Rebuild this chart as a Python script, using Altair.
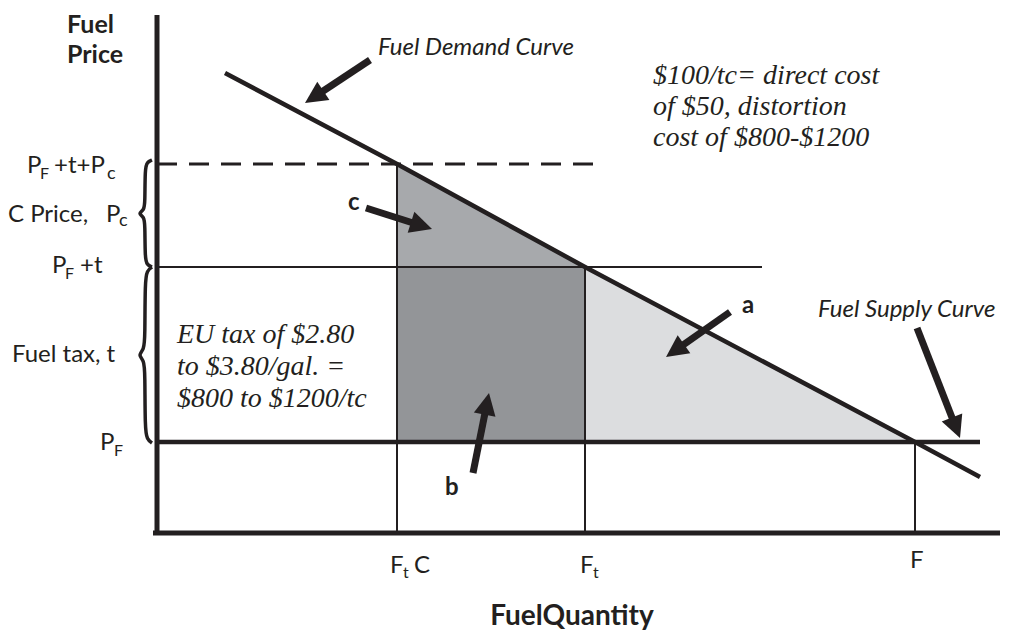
import math
import altair as alt
import pandas as pd

# ---------------- data (diagram values, origin at the axes' corner) ----------
# quantities
Q_FTC, Q_FT, Q_F = 240, 428, 758
# prices
P_F, P_FT, P_FTC = 91, 266, 369

# demand curve points (quantity, price)
demand_q = [68, 240, 428, 758, 823]
demand_p = [460, 369, 266, 91, 56]

# arrows: tail (q, p) -> tip (q, p)
arrow_q0 = [213, 209, 573, 316, 760]
arrow_p0 = [473, 325, 221, 60, 205]
arrow_q1 = [148, 275, 509, 332, 803]
arrow_p1 = [430, 304, 176, 140, 95]

INK = "#231f20"

xs = alt.Scale(domain=[-149, 851], nice=False, zero=False)
ys = alt.Scale(domain=[-99, 525], nice=False, zero=False)


def X(f):
    return alt.X(f, type="quantitative", scale=xs, axis=None)


def Y(f):
    return alt.Y(f, type="quantitative", scale=ys, axis=None)


# ---------------- filled regions ----------------
tri_c = pd.DataFrame({"q": [Q_FTC, Q_FT], "p": [P_FTC, P_FT], "p2": [P_FT, P_FT]})
tri_a = pd.DataFrame({"q": [Q_FT, Q_F], "p": [P_FT, P_F], "p2": [P_F, P_F]})
rect_b = pd.DataFrame({"q": [Q_FTC], "q2": [Q_FT], "p": [P_F], "p2": [P_FT]})

area_c = alt.Chart(tri_c).mark_area(color="#a7a9ac", opacity=1).encode(
    x=X("q"), y=Y("p"), y2="p2")
area_a = alt.Chart(tri_a).mark_area(color="#dcdddf", opacity=1).encode(
    x=X("q"), y=Y("p"), y2="p2")
rect = alt.Chart(rect_b).mark_rect(color="#939598").encode(
    x=X("q"), x2="q2", y=Y("p"), y2="p2")

# ---------------- straight lines ----------------
lines = pd.DataFrame({
    "q":  [0, -4, 0, 0, Q_FTC, Q_FT, Q_F],
    "q2": [0, 843, 823, 605, Q_FTC, Q_FT, Q_F],
    "p":  [-2, 0, P_F, P_FT, 0, 0, 0],
    "p2": [518, 0, P_F, P_FT, P_FTC, P_FT, P_F],
    "w":  [5, 5, 4.5, 2, 2, 2, 2],
})
rules = alt.Chart(lines).mark_rule(color=INK).encode(
    x=X("q"), x2="q2", y=Y("p"), y2="p2",
    strokeWidth=alt.StrokeWidth("w:Q", scale=None, legend=None))

dashed = alt.Chart(pd.DataFrame({"q": [0], "q2": [440], "p": [P_FTC]})).mark_rule(
    color=INK, strokeWidth=3, strokeDash=[20, 12]).encode(x=X("q"), x2="q2", y=Y("p"))

demand = alt.Chart(pd.DataFrame({"q": demand_q, "p": demand_p})).mark_line(
    color=INK, strokeWidth=4.5).encode(x=X("q"), y=Y("p"), order="q:Q")

# ---------------- braces ----------------
brace_dx = [0, -5, -7, -7, -8, -14, -8, -7, -7, -5, 0]
brace_t = [0, 0.02, 0.08, 0.40, 0.47, 0.5, 0.53, 0.60, 0.92, 0.98, 1]
brace_rows = []
for bid, (top, bot) in enumerate([(P_FTC + 4, P_FT), (P_FT, P_F - 1)]):
    for i, (dx, t) in enumerate(zip(brace_dx, brace_t)):
        brace_rows.append({"b": bid, "i": i, "q": -5 + dx, "p": top - t * (top - bot)})
braces = alt.Chart(pd.DataFrame(brace_rows)).mark_line(
    color=INK, strokeWidth=3.5, interpolate="basis").encode(
    x=X("q"), y=Y("p"), detail="b:N", order="i:Q")

# ---------------- arrows ----------------
R = 11
rows = []
for q0, p0, q1, p1 in zip(arrow_q0, arrow_p0, arrow_q1, arrow_p1):
    dx, dy = q1 - q0, -(p1 - p0)  # screen direction (y down)
    L = math.hypot(dx, dy)
    ux, uy = dx / L, dy / L
    ang = math.degrees(math.atan2(ux, -uy)) % 360
    rows.append({
        "q0": q0, "p0": p0,
        "qs": q1 - 1.2 * R * ux, "ps": p1 + 1.2 * R * uy,
        "qh": q1 - R * ux, "ph": p1 + R * uy, "ang": ang,
    })
adf = pd.DataFrame(rows)
shafts = alt.Chart(adf).mark_rule(color=INK, strokeWidth=7).encode(
    x=X("q0"), x2="qs", y=Y("p0"), y2="ps")
heads = alt.Chart(adf).mark_point(
    shape="M0,-1L1,1L-1,1Z", filled=True, fill=INK, strokeWidth=0, opacity=1,
    size=(2 * R) ** 2).encode(
    x=X("qh"), y=Y("ph"), angle=alt.Angle("ang:Q", scale=None))


# ---------------- text ----------------
def T(px, py):
    return px - 157, 533 - py


def text_layer(items, font, size, weight="normal", style="normal", align="left"):
    df = pd.DataFrame([{"q": T(x, y)[0], "p": T(x, y)[1], "txt": s} for x, y, s in items])
    return alt.Chart(df).mark_text(
        font=font, fontSize=size, fontWeight=weight, fontStyle=style, align=align,
        baseline="alphabetic", color=INK).encode(x=X("q"), y=Y("p"), text="txt:N")


SANS = "Lato"
main_labels = [
    (27, 173, "P"), (54, 173, "+t+P"),
    (8, 222, "C Price,"), (106, 222, "P"),
    (52, 273, "P"), (80, 273, "+t"),
    (12, 362, "Fuel  tax, t"),
    (100, 450, "P"),
    (390, 573, "F"), (414, 573, "C"),
    (580, 573, "F"),
    (910, 568, "F"),
]
sub_labels_f = [
    (40, 179, "F"), (65, 279, "F"), (114, 456, "F"),
    (403, 578, "t"), (593, 578, "t"),
]
sub_labels_c = [(107, 179, "c"), (119, 226, "c")]
bold_titles = [(67, 33, "Fuel"), (67, 63, "Price")]
letters = [(348, 210, "c"), (742, 313, "a"), (445, 495, "b")]
italic_sans = [(378, 55, "Fuel Demand Curve"), (818, 317, "Fuel Supply Curve")]
serif_notes = [
    (653, 84, "$100/tc= direct cost"), (653, 115, "of $50, distortion"),
    (653, 146, "cost of $800-$1200"),
    (177, 343, "EU tax of $2.80"), (177, 375, "to $3.80/gal. ="),
    (177, 407, "$800 to $1200/tc"),
]

texts = [
    text_layer(main_labels, SANS, 24),
    text_layer(sub_labels_f, SANS, 16),
    text_layer(sub_labels_c, SANS, 18),
    text_layer(bold_titles, SANS, 25, weight="bold"),
    text_layer(letters, SANS, 24, weight="bold"),
    text_layer(italic_sans, SANS, 24, style="italic"),
    text_layer(serif_notes, "Liberation Serif", 28, style="italic"),
    text_layer([(572, 625, "FuelQuantity")], SANS, 28, weight="bold", align="center"),
]

chart = alt.layer(
    area_c, area_a, rect, rules, dashed, demand, braces, shafts, heads, *texts
).properties(
    width=1000, height=624, padding=0,
    autosize=alt.AutoSizeParams(type="none"),
).configure_view(stroke=None)

chart.save("out.html", embed_options={"renderer": "svg", "actions": False})
